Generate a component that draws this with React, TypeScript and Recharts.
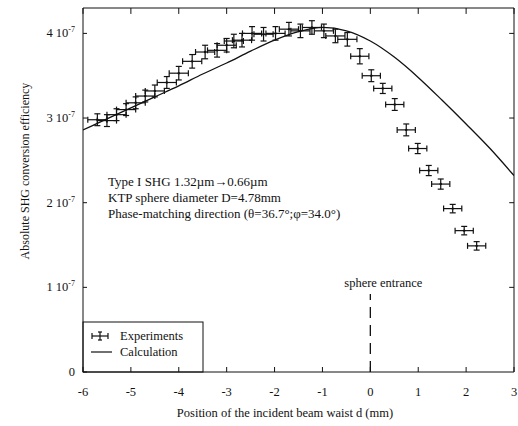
import {
  ComposedChart,
  Line,
  Scatter,
  ErrorBar,
  XAxis,
  YAxis,
  ReferenceLine,
  Customized,
} from "recharts";

// beam waist position d (mm) and efficiency (units of 1e-7)
const calcD = [-6, -5.5, -5, -4.5, -4, -3.5, -3, -2.5, -2, -1.5, -1.2, -1, -0.5, 0, 0.5, 1, 1.5, 2, 2.5, 3];
const calcV = [2.86, 2.99, 3.12, 3.25, 3.38, 3.52, 3.65, 3.79, 3.92, 4.02, 4.06, 4.07, 4.03, 3.91, 3.72, 3.48, 3.21, 2.93, 2.64, 2.32];

const expD = [
  -5.7, -5.5, -5.3, -5.1, -4.9, -4.7, -4.5, -4.25, -4.0, -3.72, -3.45, -3.2, -3.0, -2.85, -2.68, -2.47, -2.23,
  -1.98, -1.7, -1.46, -1.22, -0.97, -0.73, -0.48, -0.22, 0.02, 0.26, 0.51, 0.75, 0.99, 1.22, 1.47, 1.72, 1.96, 2.22,
];
const expV = [
  2.98, 2.97, 3.04, 3.1, 3.18, 3.26, 3.32, 3.42, 3.53, 3.67, 3.78, 3.8, 3.86, 3.91, 3.92, 4.0, 3.99,
  4.0, 4.05, 4.03, 4.07, 4.03, 3.97, 3.93, 3.73, 3.5, 3.35, 3.16, 2.86, 2.64, 2.38, 2.22, 1.93, 1.67, 1.49,
];
const expXErr = [
  0.2, 0.2, 0.2, 0.2, 0.2, 0.2, 0.2, 0.2, 0.2, 0.2, 0.2, 0.2, 0.2, 0.2, 0.2, 0.2, 0.2,
  0.2, 0.2, 0.2, 0.2, 0.2, 0.2, 0.2, 0.19, 0.19, 0.19, 0.19, 0.19, 0.19, 0.19, 0.19, 0.19, 0.19, 0.19,
];
const expYErr = [
  0.07, 0.07, 0.07, 0.07, 0.07, 0.07, 0.07, 0.07, 0.08, 0.08, 0.08, 0.08, 0.08, 0.08, 0.08, 0.08, 0.08,
  0.08, 0.08, 0.08, 0.08, 0.08, 0.08, 0.08, 0.09, 0.07, 0.06, 0.07, 0.07, 0.06, 0.06, 0.06, 0.05, 0.05, 0.05,
];

const xTicks = [-6, -5, -4, -3, -2, -1, 0, 1, 2, 3];
const yTicks = [0, 1, 2, 3, 4];
const X_MIN = -6;
const X_MAX = 3;
const Y_MAX = 4.3;

const calcData = calcD.map((d, i) => ({ d, v: calcV[i] }));
const expData = expD.map((d, i) => ({ d, v: expV[i], ex: expXErr[i], ey: expYErr[i] }));

const FONT = "Liberation Serif";
const INK = "#111";

function YTick({ x, y, payload }: any) {
  const v = payload.value;
  return (
    <text x={x} y={y} dy={4} textAnchor="end" fontFamily={FONT} fontSize={12.5} fill={INK}>
      {v === 0 ? "0" : `${v} 10`}
      {v !== 0 && (
        <tspan dy={-5} fontSize={8}>
          -7
        </tspan>
      )}
    </text>
  );
}

function Annotations() {
  return (
    <g fontFamily={FONT} fill={INK}>
      <g fontSize={13}>
        <text x={108} y={186}>Type I SHG 1.32µm→0.66µm</text>
        <text x={108} y={202}>KTP sphere diameter D=4.78mm</text>
        <text x={108} y={218}>Phase-matching direction (θ=36.7°;φ=34.0°)</text>
      </g>
      <text x={285} y={417} textAnchor="middle" fontSize={12.5}>
        Position of the incident beam waist d (mm)
      </text>
      <text x={25} y={171} textAnchor="middle" fontSize={12} transform="rotate(-90 25 171)" dy={4}>
        Absolute SHG conversion efficiency
      </text>
      {/* legend */}
      <rect x={83} y={322} width={120} height={50} fill="#fff" stroke={INK} strokeWidth={1} />
      <g stroke={INK} strokeWidth={1.2}>
        <line x1={92} y1={336} x2={108} y2={336} />
        <line x1={92} y1={333} x2={92} y2={339} />
        <line x1={108} y1={333} x2={108} y2={339} />
        <line x1={100} y1={332} x2={100} y2={340} />
        <line x1={98} y1={332} x2={102} y2={332} />
        <line x1={98} y1={340} x2={102} y2={340} />
        <line x1={91} y1={352} x2={112} y2={352} />
      </g>
      <text x={120} y={340} fontSize={12.5}>Experiments</text>
      <text x={120} y={356} fontSize={12.5}>Calculation</text>
    </g>
  );
}

export default function App() {
  return (
    <div style={{ position: "absolute", left: 0, top: 0, background: "#fff" }}>
      <ComposedChart
        width={518}
        height={426}
        margin={{ top: 8, right: 4, left: 0, bottom: 24 }}
      >
        <XAxis
          dataKey="d"
          type="number"
          domain={[X_MIN, X_MAX]}
          ticks={xTicks}
          allowDataOverflow
          height={30}
          stroke={INK}
          tickSize={-5}
          tickMargin={20}
          tick={{ fontFamily: FONT, fontSize: 12.5, fill: INK }}
        />
        <YAxis
          type="number"
          domain={[0, Y_MAX]}
          ticks={yTicks}
          allowDataOverflow
          width={83}
          stroke={INK}
          tickSize={-4}
          tickMargin={12}
          tick={<YTick />}
        />
        {/* frame: top and right edges with inward ticks */}
        <ReferenceLine y={Y_MAX} stroke={INK} strokeWidth={1} />
        <ReferenceLine x={X_MAX} stroke={INK} strokeWidth={1} />
        {xTicks.map((t) => (
          <ReferenceLine
            key={`tx${t}`}
            segment={[
              { x: t, y: Y_MAX },
              { x: t, y: Y_MAX - 0.07 },
            ]}
            stroke={INK}
          />
        ))}
        {yTicks.slice(1).map((t) => (
          <ReferenceLine
            key={`ty${t}`}
            segment={[
              { x: X_MAX - 0.1, y: t },
              { x: X_MAX, y: t },
            ]}
            stroke={INK}
          />
        ))}
        <ReferenceLine
          segment={[
            { x: 0, y: 0 },
            { x: 0, y: 0.92 },
          ]}
          stroke={INK}
          strokeWidth={1.3}
          strokeDasharray="11 7"
          label={{
            value: "sphere entrance",
            position: "top",
            dx: 13,
            offset: 7,
            fontFamily: FONT,
            fontSize: 12.5,
            fill: INK,
          }}
        />
        <Line
          data={calcData}
          dataKey="v"
          type="monotone"
          dot={false}
          stroke={INK}
          strokeWidth={1.3}
          isAnimationActive={false}
        />
        <Scatter
          data={expData}
          dataKey="v"
          fill={INK}
          shape={(p: any) => <circle cx={p.cx} cy={p.cy} r={1.2} fill={INK} />}
          isAnimationActive={false}
        >
          <ErrorBar dataKey="ex" direction="x" width={3} stroke={INK} strokeWidth={1.2} />
          <ErrorBar dataKey="ey" direction="y" width={3} stroke={INK} strokeWidth={1.2} />
        </Scatter>
        <Customized component={Annotations} />
      </ComposedChart>
    </div>
  );
}
